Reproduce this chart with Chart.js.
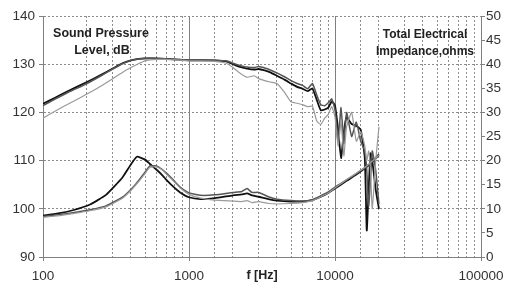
<!DOCTYPE html>
<html>
<head>
<meta charset="utf-8">
<script src="https://cdn.jsdelivr.net/npm/chart.js@4.4.0/dist/chart.umd.min.js"></script>
<style>
  html, body { margin: 0; padding: 0; background: #fff; }
</style>
</head>
<body>
<canvas id="c" width="505" height="285"></canvas>
<script>
// SPL curves, dB (left axis)
const splFreq = [100, 120, 150, 200, 250, 300, 350, 400, 450, 500, 600, 700, 800, 1000, 1200, 1500, 1800, 2000, 2200, 2500,
  2800, 3000, 3300, 3600, 4000, 4500, 5000, 5500, 6000, 6500, 7000, 7500, 8000, 8500, 9000, 9500, 10000, 10500, 11000, 11500,
  12000, 13000, 14000, 15000, 16000, 16500, 17000, 17500, 18000, 19000, 20000];
const splBlack = [121.8, 123.0, 124.5, 126.3, 127.8, 129.1, 130.2, 130.8, 131.1, 131.2, 131.2, 131.1, 131.0, 130.8, 130.8, 130.8, 130.6, 130.0, 129.5, 129.1,
  128.9, 129.0, 128.7, 128.3, 127.6, 126.8, 126.0, 125.3, 124.9, 124.4, 125.0, 122.6, 120.4, 120.6, 121.0, 122.3, 121.4, 116.5, 110.5, 116.0,
  119.0, 117.6, 117.2, 116.4, 110.5, 95.5, 104.0, 111.5, 110.0, 104.0, 100.0];
const splDark = [121.4, 122.7, 124.2, 126.0, 127.6, 129.0, 130.1, 130.8, 131.1, 131.2, 131.2, 131.1, 131.0, 130.9, 130.9, 130.8, 130.7, 130.2, 129.8, 129.4,
  129.3, 129.5, 129.2, 128.8, 128.2, 127.4, 126.6, 126.0, 125.6, 124.9, 126.0, 123.6, 121.6, 121.4, 122.0, 122.8, 120.5, 114.0, 121.0, 113.5,
  120.0, 115.0, 118.0, 114.0, 112.0, 108.0, 100.5, 106.0, 112.0, 108.0, 101.0];
const splLight = [118.8, 120.2, 121.8, 123.8, 125.5, 127.0, 128.3, 129.3, 130.1, 130.7, 131.0, 131.0, 130.9, 130.7, 130.7, 130.6, 130.2, 129.3, 128.3, 127.3,
  127.6, 127.0, 126.6, 126.3, 126.0, 124.2, 122.2, 121.9, 121.6, 121.2, 121.3, 118.2, 117.5, 118.8, 119.6, 121.2, 119.0, 113.0, 118.0, 111.0,
  117.0, 120.0, 114.0, 116.0, 113.0, 110.0, 112.0, 108.0, 100.0, 110.0, 117.0];

// impedance curves, ohms (right axis)
const impFreq = [100, 130, 160, 210, 270, 350, 400, 440, 500, 540, 600, 660, 700, 780, 870, 1000, 1200, 1500, 2000, 2300,
  2500, 2700, 3000, 3500, 4000, 5000, 6000, 7000, 8000, 9000, 10000, 12000, 14000, 16000, 18000, 20000];
const impBlack = [8.6, 9.1, 9.7, 10.9, 12.9, 16.5, 19.2, 20.8, 20.2, 19.3, 18.1, 16.9, 16.0, 14.6, 13.4, 12.4, 12.0, 12.2, 12.8, 13.0,
  13.2, 12.8, 12.5, 12.0, 11.7, 11.5, 11.5, 11.8, 12.5, 13.3, 14.2, 15.8, 17.1, 18.4, 19.7, 21.3];
const impDark = [8.4, 8.8, 9.2, 9.8, 10.6, 12.4, 14.0, 15.4, 17.6, 18.9, 18.9, 18.1, 17.4, 16.0, 14.5, 13.3, 12.8, 12.9, 13.4, 13.6,
  14.2, 13.4, 13.4, 12.5, 12.0, 11.7, 11.6, 11.9, 12.7, 13.5, 14.5, 16.0, 17.3, 18.5, 19.8, 21.0];
const impLight = [8.2, 8.6, 9.0, 9.6, 10.4, 12.2, 13.8, 15.2, 17.3, 18.6, 18.7, 18.0, 17.2, 15.8, 14.3, 13.0, 12.2, 11.8, 11.6, 11.5,
  11.7, 11.3, 11.5, 11.1, 11.0, 11.1, 11.3, 11.7, 12.5, 13.3, 14.3, 16.1, 17.4, 18.6, 19.9, 21.2];

const FONT = '"Liberation Sans", Arial, sans-serif';
const isDecade = v => Math.abs(Math.log10(v) - Math.round(Math.log10(v))) < 1e-6;
const pts = (fs, vs) => fs.map((f, i) => ({ x: f, y: vs[i] }));

function line(data, axis, color, width) {
    return {
        data: data,
        yAxisID: axis,
        borderColor: color,
        borderWidth: width,
        pointRadius: 0,
        tension: 0.15,
        fill: false
    };
}

// text labels inside the plot
const notes = {
    id: 'notes',
    afterDatasetsDraw(chart) {
        const { ctx, chartArea: a } = chart;
        ctx.save();
        ctx.fillStyle = '#222';
        ctx.textAlign = 'center';
        ctx.textBaseline = 'middle';
        ctx.font = 'bold 12.5px ' + FONT;
        ctx.fillText('Sound Pressure', a.left + 58, a.top + 18);
        ctx.fillText('Level, dB', a.left + 59, a.top + 35);
        ctx.font = 'bold 12px ' + FONT;
        ctx.fillText('Total Electrical', a.right - 56, a.top + 19);
        ctx.fillText('Impedance,ohms', a.right - 56, a.top + 36);
        ctx.font = 'bold 12.5px ' + FONT;
        ctx.fillText('f [Hz]', (a.left + a.right) / 2, a.bottom + 19);
        ctx.restore();
    }
};

new Chart(document.getElementById('c'), {
    type: 'line',
    data: {
        datasets: [
            line(pts(splFreq, splLight), 'y', '#9a9a9a', 1.2),
            line(pts(impFreq, impLight), 'y1', '#9a9a9a', 1.2),
            line(pts(splFreq, splDark), 'y', '#555', 1.5),
            line(pts(impFreq, impDark), 'y1', '#555', 1.5),
            line(pts(splFreq, splBlack), 'y', '#111', 1.8),
            line(pts(impFreq, impBlack), 'y1', '#111', 1.8)
        ]
    },
    options: {
        responsive: false,
        devicePixelRatio: 1,
        animation: false,
        layout: { padding: { top: 16, left: 0, right: 0, bottom: 0 } },
        plugins: { legend: { display: false }, tooltip: { enabled: false } },
        scales: {
            x: {
                type: 'logarithmic',
                min: 100,
                max: 100000,
                afterFit: s => {
                    s.height = 28;
                    // labels may hang over the side axes, no extra room needed
                    s.paddingLeft = 0;
                    s.paddingRight = 0;
                },
                grid: {
                    color: c => (c.tick && isDecade(c.tick.value)) ? '#808080' : '#8c8c8c',
                    lineWidth: 1,
                    tickLength: 4,
                    tickColor: c => (c.tick && isDecade(c.tick.value)) ? '#808080' : 'rgba(0,0,0,0)'
                },
                border: {
                    color: '#808080',
                    dash: c => (c.tick && isDecade(c.tick.value)) ? [] : [2, 2]
                },
                ticks: {
                    autoSkip: false,
                    maxRotation: 0,
                    padding: 7,
                    color: '#333',
                    font: { family: FONT, size: 13.5 },
                    callback: v => isDecade(v) ? String(v) : ''
                }
            },
            y: {
                position: 'left',
                min: 90,
                max: 140,
                afterFit: s => { s.width = 43; },
                grid: { color: '#8c8c8c', tickLength: 4, tickColor: '#808080' },
                border: { color: '#808080', dash: [2, 2] },
                ticks: {
                    stepSize: 10,
                    padding: 4,
                    color: '#333',
                    font: { family: FONT, size: 13.5 }
                }
            },
            y1: {
                position: 'right',
                min: 0,
                max: 50,
                afterFit: s => { s.width = 24; },
                grid: { drawOnChartArea: false, tickLength: 4, tickColor: '#808080' },
                border: { color: '#808080' },
                ticks: {
                    stepSize: 5,
                    padding: 1,
                    color: '#333',
                    font: { family: FONT, size: 13.5 }
                }
            }
        }
    },
    plugins: [notes]
});
</script>
</body>
</html>
